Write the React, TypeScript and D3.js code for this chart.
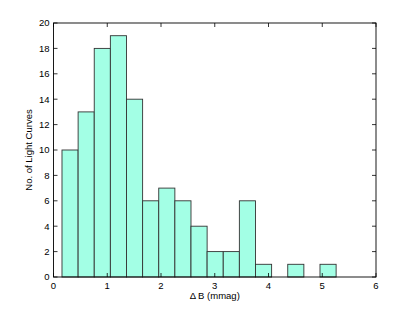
import * as d3 from "d3";

// histogram of delta B per light curve
const BIN_START = 0.158;
const BIN_WIDTH = 0.3;
const counts = [10, 13, 18, 19, 14, 6, 7, 6, 4, 2, 2, 6, 1, 0, 1, 0, 1];
const xTicks = [0, 1, 2, 3, 4, 5, 6];
const yTicks = [0, 2, 4, 6, 8, 10, 12, 14, 16, 18, 20];

const W = 415;
const H = 312;
const M = { top: 23, right: 39, bottom: 35, left: 53.5 };

const App = () => {
    const innerW = W - M.left - M.right;
    const innerH = H - M.top - M.bottom;

    const x = d3.scaleLinear().domain([0, 6]).range([0, innerW]);
    const y = d3.scaleLinear().domain([0, 20]).range([innerH, 0]);

    const bins = counts.map((c, i) => ({
        x0: BIN_START + i * BIN_WIDTH,
        x1: BIN_START + (i + 1) * BIN_WIDTH,
        count: c,
    }));

    const tickLen = 4;
    const font = "Liberation Sans, Arial, Helvetica, sans-serif";

    return (
        <svg width={W} height={H} style={{ position: "absolute", left: 0, top: 0 }}>
            <rect width={W} height={H} fill="#fff" />
            <g transform={`translate(${M.left},${M.top})`} fontFamily={font} fontSize={9.5}>
                {bins.filter((b) => b.count > 0).map((b, i) => (
                    <rect
                        key={i}
                        x={x(b.x0)}
                        y={y(b.count)}
                        width={x(b.x1) - x(b.x0)}
                        height={innerH - y(b.count)}
                        fill="#a3ffe5"
                        stroke="#333"
                        strokeWidth={0.9}
                    />
                ))}
                {xTicks.map((t) => (
                    <g key={"x" + t}>
                        <line x1={x(t)} x2={x(t)} y1={innerH} y2={innerH - tickLen} stroke="#000" strokeWidth={0.8} />
                        <line x1={x(t)} x2={x(t)} y1={0} y2={tickLen} stroke="#000" strokeWidth={0.8} />
                        <text x={x(t)} y={innerH + 12} textAnchor="middle" fill="#000">{t}</text>
                    </g>
                ))}
                {yTicks.map((t) => (
                    <g key={"y" + t}>
                        <line x1={0} x2={tickLen} y1={y(t)} y2={y(t)} stroke="#000" strokeWidth={0.8} />
                        <line x1={innerW} x2={innerW - tickLen} y1={y(t)} y2={y(t)} stroke="#000" strokeWidth={0.8} />
                        <text x={-4} y={y(t) + 3.3} textAnchor="end" fill="#000">{t}</text>
                    </g>
                ))}
                <rect x={0} y={0} width={innerW} height={innerH} fill="none" stroke="#000" strokeWidth={0.9} />
                <text x={innerW / 2} y={innerH + 22} textAnchor="middle" fill="#000">
                    Δ B (mmag)
                </text>
                <text
                    transform={`translate(${-22},${innerH / 2}) rotate(-90)`}
                    textAnchor="middle"
                    fill="#000"
                >
                    No. of Light Curves
                </text>
            </g>
        </svg>
    );
};

export default App;
